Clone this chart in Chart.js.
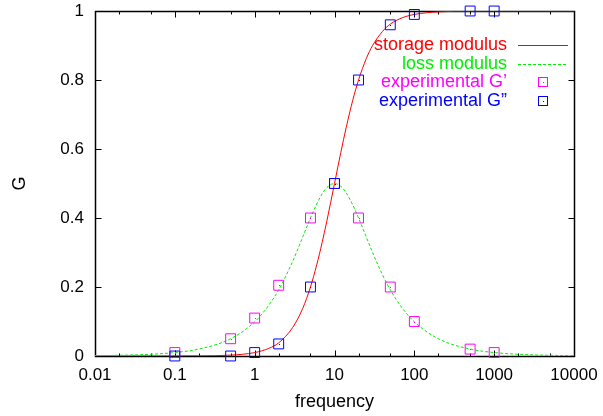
<!DOCTYPE html>
<html>
<head>
<meta charset="utf-8">
<script src="https://cdn.jsdelivr.net/npm/chart.js@4.4.0/dist/chart.umd.min.js"></script>
<style>
  html, body { margin: 0; padding: 0; background: #fff; }
  #wrap { width: 603px; height: 416px; }
</style>
</head>
<body>
<div id="wrap"><canvas id="chart"></canvas></div>
<script>
/*global Chart, document*/
(function () {
  "use strict";

  // model curves
  var curveFreq = [0.01, 0.02, 0.05, 0.1, 0.2, 0.5, 1, 1.5, 2, 3, 4, 5, 6, 7, 8,
    10, 12, 14, 17, 20, 25, 30, 40, 50, 70, 100, 200, 500, 1000, 2000, 5000, 10000];
  var storageModulus = [0, 0, 0, 0.0001, 0.0004, 0.0025, 0.0099, 0.022, 0.038, 0.083,
    0.138, 0.2, 0.265, 0.329, 0.39, 0.5, 0.59, 0.662, 0.743, 0.8, 0.862, 0.9, 0.941,
    0.962, 0.98, 0.99, 0.9975, 0.9996, 1, 1, 1, 1];
  var lossModulus = [0.001, 0.002, 0.005, 0.01, 0.02, 0.05, 0.099, 0.147, 0.192, 0.275,
    0.345, 0.4, 0.441, 0.47, 0.488, 0.5, 0.492, 0.473, 0.437, 0.4, 0.345, 0.3, 0.235,
    0.192, 0.14, 0.099, 0.05, 0.02, 0.01, 0.005, 0.002, 0.001];

  // experimental points
  var expFreq = [0.1, 0.5, 1, 2, 5, 10, 20, 50, 100, 500, 1000];
  var expGp = [0.01, 0.05, 0.11, 0.205, 0.4, 0.5, 0.4, 0.2, 0.1, 0.02, 0.01];
  var expGpp = [0, 0, 0.01, 0.035, 0.2, 0.5, 0.8, 0.96, 0.99, 1, 1];

  // axes
  var xTicks = [0.01, 0.1, 1, 10, 100, 1000, 10000];
  var xMinorTicks = [0.02, 0.05, 0.2, 0.5, 2, 5, 20, 50, 200, 500, 2000, 5000];
  var yTicks = [0, 0.2, 0.4, 0.6, 0.8, 1];

  var FONT = "'Liberation Sans', Arial, Helvetica, sans-serif";

  function pairs(xs, ys) {
    return xs.map(function (x, i) {
      return {x: x, y: ys[i]};
    });
  }

  // gnuplot style box with inward ticks on all four sides
  function drawFrame(chart) {
    var ctx = chart.ctx,
      a = chart.chartArea,
      xs = chart.scales.x,
      ys = chart.scales.y,
      l = Math.round(a.left) + 0.5,
      r = Math.round(a.right) + 0.5,
      t = Math.round(a.top) + 0.5,
      b = Math.round(a.bottom) + 0.5,
      marks = xTicks.concat(xMinorTicks),
      i,
      px,
      py,
      len;
    ctx.save();
    ctx.setLineDash([]);
    ctx.strokeStyle = "#000000";
    ctx.lineWidth = 1;
    ctx.beginPath();
    for (i = 0; i < marks.length; i += 1) {
      px = Math.round(xs.getPixelForValue(marks[i])) + 0.5;
      len = i < xTicks.length ? 6 : 3;
      ctx.moveTo(px, b);
      ctx.lineTo(px, b - len);
      ctx.moveTo(px, t);
      ctx.lineTo(px, t + len);
    }
    for (i = 0; i < yTicks.length; i += 1) {
      py = Math.round(ys.getPixelForValue(yTicks[i])) + 0.5;
      ctx.moveTo(l, py);
      ctx.lineTo(l + 6, py);
      ctx.moveTo(r, py);
      ctx.lineTo(r - 6, py);
    }
    ctx.stroke();
    ctx.lineWidth = 1.5;
    ctx.strokeRect(l, t, r - l, b - t);
    ctx.restore();
  }

  function drawDots(chart) {
    var ctx = chart.ctx;
    ctx.save();
    chart.data.datasets.forEach(function (ds, i) {
      if (!ds.pointRadius) {
        return;
      }
      ctx.fillStyle = ds.borderColor;
      chart.getDatasetMeta(i).data.forEach(function (pt) {
        ctx.fillRect(Math.round(pt.x), Math.round(pt.y), 1, 1);
      });
    });
    ctx.restore();
  }

  function drawKey(chart) {
    var ctx = chart.ctx,
      a = chart.chartArea,
      textX = a.right - 67,
      sampleX = Math.round(a.right - 31);
    ctx.save();
    ctx.font = "18px " + FONT;
    ctx.textAlign = "right";
    ctx.textBaseline = "middle";
    chart.data.datasets.forEach(function (ds, row) {
      var y = Math.round(a.top + 34 + row * 18.5);
      ctx.fillStyle = ds.borderColor;
      ctx.fillText(ds.label, textX, y);
      ctx.strokeStyle = ds.borderColor;
      ctx.lineWidth = 1;
      if (ds.pointRadius) {
        ctx.strokeRect(sampleX - 4.5, y - 4.5, 9, 9);
        ctx.fillRect(sampleX, y, 1, 1);
      } else {
        ctx.setLineDash(ds.borderDash || []);
        ctx.beginPath();
        ctx.moveTo(sampleX - 25, y + 0.5);
        ctx.lineTo(sampleX + 25, y + 0.5);
        ctx.stroke();
        ctx.setLineDash([]);
      }
    });
    ctx.restore();
  }

  var gnuplotLook = {
    id: "gnuplotLook",
    beforeDatasetsDraw: function (chart) {
      drawFrame(chart);
    },
    afterDraw: function (chart) {
      drawDots(chart);
      drawKey(chart);
    }
  };

  new Chart(document.getElementById("chart"), {
    type: "scatter",
    data: {
      datasets: [
        {
          label: "storage modulus",
          data: pairs(curveFreq, storageModulus),
          showLine: true,
          borderColor: "#ff0000",
          borderWidth: 1,
          pointRadius: 0,
          cubicInterpolationMode: "monotone",
          order: 3
        },
        {
          label: "loss modulus",
          data: pairs(curveFreq, lossModulus),
          showLine: true,
          borderColor: "#00ee00",
          borderWidth: 1,
          borderDash: [3, 2],
          pointRadius: 0,
          cubicInterpolationMode: "monotone",
          order: 2
        },
        {
          label: "experimental G\u2019",
          data: pairs(expFreq, expGp),
          borderColor: "#ff00ff",
          backgroundColor: "rgba(0,0,0,0)",
          pointStyle: "rect",
          pointRadius: 7,
          borderWidth: 1,
          clip: false,
          order: 1
        },
        {
          label: "experimental G\u201d",
          data: pairs(expFreq, expGpp),
          borderColor: "#0000ff",
          backgroundColor: "rgba(0,0,0,0)",
          pointStyle: "rect",
          pointRadius: 7,
          borderWidth: 1,
          clip: false,
          order: 0
        }
      ]
    },
    options: {
      responsive: true,
      maintainAspectRatio: false,
      animation: false,
      layout: {padding: {top: 11, right: 29, left: 0, bottom: 0}},
      plugins: {
        legend: {display: false},
        tooltip: {enabled: false}
      },
      scales: {
        x: {
          type: "logarithmic",
          min: 0.01,
          max: 10000,
          afterFit: function (scale) {
            scale.height = 60;
            scale.paddingLeft = 0;
            scale.paddingRight = 0;
          },
          afterBuildTicks: function (scale) {
            scale.ticks = xTicks.map(function (v) {
              return {value: v, major: true};
            });
          },
          grid: {display: false, drawTicks: false},
          border: {display: false},
          ticks: {
            color: "#000",
            padding: 9,
            maxRotation: 0,
            autoSkip: false,
            font: {family: FONT, size: 17},
            callback: function (v) {
              return String(v);
            }
          },
          title: {
            display: true,
            text: "frequency",
            color: "#000",
            padding: {top: 0, bottom: 3},
            font: {family: FONT, size: 18}
          }
        },
        y: {
          min: 0,
          max: 1,
          afterFit: function (scale) {
            scale.width = 95;
            scale.paddingTop = 0;
            scale.paddingBottom = 0;
          },
          afterBuildTicks: function (scale) {
            scale.ticks = yTicks.map(function (v) {
              return {value: v};
            });
          },
          grid: {display: false, drawTicks: false},
          border: {display: false},
          ticks: {
            color: "#000",
            padding: 11,
            font: {family: FONT, size: 17},
            callback: function (v) {
              return String(Number(v.toFixed(1)));
            }
          },
          title: {
            display: true,
            text: "G",
            color: "#000",
            padding: {top: 9, bottom: 0},
            font: {family: FONT, size: 18}
          }
        }
      }
    },
    plugins: [gnuplotLook]
  });
}());
</script>
</body>
</html>
